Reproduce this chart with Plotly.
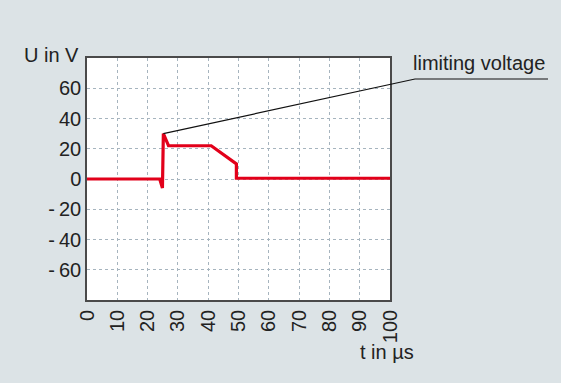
import plotly.graph_objects as go

# Voltage curve of the surge protective device (time in µs, voltage in V)
t_us = [0, 24.0, 24.9, 25.2, 26.9, 41.0, 49.3, 49.3, 100]
u_v = [0, 0, -6, 30, 22, 22, 10, 0.5, 0.5]

x_ticks = [0, 10, 20, 30, 40, 50, 60, 70, 80, 90, 100]
y_ticks = [-60, -40, -20, 0, 20, 40, 60]
y_tick_text = ["-\u200960", "-\u200940", "-\u200920", "0", "20", "40", "60"]

# limiting voltage = peak of the curve
peak_i = max(range(len(u_v)), key=lambda i: u_v[i])
peak_t, peak_u = t_us[peak_i], u_v[peak_i]

X_RANGE = [0, 100]
Y_RANGE = [-80, 80]

FONT = "Liberation Sans Narrow, Arial Narrow, Liberation Sans, sans-serif"
TEXT = "#222222"
BG = "#dce3e6"
GRID = "#a6b4be"
AXIS = "#4a4a4a"
RED = "#e2001a"

W, H = 561, 383
M = dict(l=87, r=171, t=58, b=83)
PW = W - M["l"] - M["r"]
PH = H - M["t"] - M["b"]


def xp(x):
    return (x - X_RANGE[0]) / (X_RANGE[1] - X_RANGE[0])


def yp(y):
    return (y - Y_RANGE[0]) / (Y_RANGE[1] - Y_RANGE[0])


def px_x(px):
    return (px - M["l"]) / PW


def px_y(py):
    return (H - M["b"] - py) / PH


fig = go.Figure()
fig.add_trace(go.Scatter(
    x=t_us, y=u_v, mode="lines",
    line=dict(color=RED, width=3.2),
    hoverinfo="skip", showlegend=False,
))

# leader line from the peak to the label, then underline
elbow = (px_x(415), px_y(79))
end_x = px_x(548)
fig.add_shape(
    type="path", xref="paper", yref="paper",
    path=f"M {xp(peak_t)} {yp(peak_u)} L {elbow[0]} {elbow[1]} L {end_x} {elbow[1]}",
    line=dict(color="#111111", width=1.2),
)
fig.add_annotation(
    text="limiting voltage", xref="paper", yref="paper",
    x=px_x(547), y=px_y(76), xanchor="right", yanchor="bottom",
    showarrow=False, font=dict(family=FONT, size=20, color=TEXT),
)
fig.add_annotation(
    text="U in V", xref="paper", yref="paper",
    x=px_x(81), y=px_y(55), xanchor="right", yanchor="middle",
    showarrow=False, font=dict(family=FONT, size=20, color=TEXT),
)
fig.add_annotation(
    text="t in µs", xref="paper", yref="paper",
    x=px_x(387), y=px_y(352), xanchor="center", yanchor="middle",
    showarrow=False, font=dict(family=FONT, size=20, color=TEXT),
)

axis_common = dict(
    showline=True, linecolor=AXIS, linewidth=1.5, mirror=True,
    showgrid=True, gridcolor=GRID, griddash="3px,3px", gridwidth=1,
    zeroline=False, ticks="",
    tickfont=dict(family=FONT, size=20, color=TEXT),
)

fig.update_xaxes(range=X_RANGE, tickvals=x_ticks, tickangle=-90, **axis_common)
fig.update_yaxes(range=Y_RANGE, tickvals=y_ticks, ticktext=y_tick_text, **axis_common)

fig.update_layout(
    width=W, height=H, margin=M,
    paper_bgcolor=BG, plot_bgcolor="white",
    font=dict(family=FONT, color=TEXT),
)

fig.write_html("out.html")
